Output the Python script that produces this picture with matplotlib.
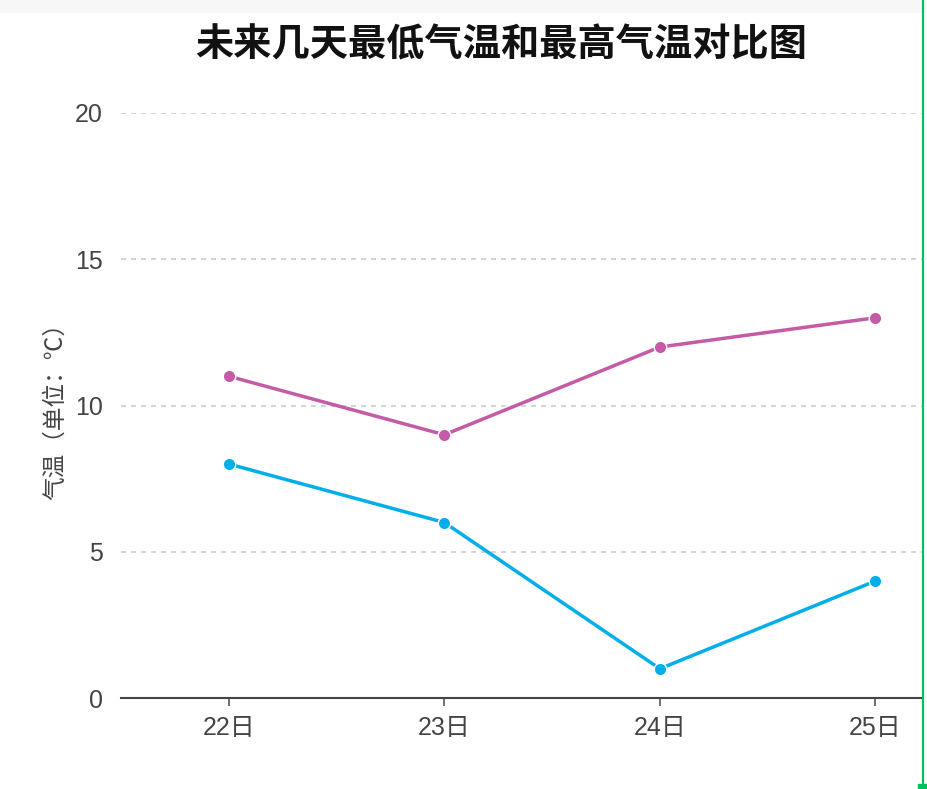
import matplotlib
matplotlib.use("Agg")
import matplotlib.pyplot as plt
from matplotlib.lines import Line2D
from matplotlib.patches import Rectangle

plt.rcParams["font.family"] = ["Liberation Sans", "Noto Sans CJK SC", "DejaVu Sans"]

days = ["22日", "23日", "24日", "25日"]
low_temps = [8, 6, 1, 4]
high_temps = [11, 9, 12, 13]
y_ticks = [0, 5, 10, 15, 20]

W, H = 928, 789
fig = plt.figure(figsize=(W / 100, H / 100), dpi=100)
ax = fig.add_axes([121 / W, 1 - 698 / H, (922 - 121) / W, (698 - 113) / H])

x = list(range(len(days)))
ax.plot(x, high_temps, color="#c55aa6", lw=2.5, marker="o", ms=9,
        markeredgecolor="white", markeredgewidth=1.0, zorder=3, clip_on=False)
ax.plot(x, low_temps, color="#00aeea", lw=2.5, marker="o", ms=9,
        markeredgecolor="white", markeredgewidth=1.0, zorder=3, clip_on=False)

ax.set_xlim(-0.5, 3.216)
ax.set_ylim(0, 20)
ax.set_xticks(x)
ax.set_xticklabels(days)
ax.set_yticks(y_ticks)
ax.tick_params(axis="x", length=6, width=1.2, color="#555555", labelsize=18,
               labelcolor="#444444", pad=7)
ax.tick_params(axis="y", length=0, labelsize=18, labelcolor="#444444", pad=13)

for v in y_ticks[1:]:
    ax.axhline(v, color="#cccccc", lw=1.2, ls=(0, (3, 3)), zorder=1)

for s in ["left", "right", "top"]:
    ax.spines[s].set_visible(False)
ax.spines["bottom"].set_color("#444444")
ax.spines["bottom"].set_linewidth(1.5)

ax.set_ylabel("气温（单位：℃）", fontsize=17, color="#444444", labelpad=6,
              family=["Noto Sans CJK SC", "DejaVu Sans"])

fig.text(501 / W, 1 - 45 / H, "未来几天最低气温和最高气温对比图",
         ha="center", va="center", fontsize=27.5, fontweight="bold", color="#111111",
         family=["Noto Sans CJK SC", "DejaVu Sans"])

# top shading and green edge line
fig.add_artist(Rectangle((0, 1 - 12 / H), 1, 12 / H, transform=fig.transFigure,
                         color="#f7f7f7", zorder=0))
fig.add_artist(Line2D([923 / W, 923 / W], [1 - 783 / H, 1], transform=fig.transFigure,
                      color="#00c060", lw=1.5))
fig.add_artist(Rectangle((918 / W, 0), 10 / W, 5 / H, transform=fig.transFigure,
                         color="#00c060"))

fig.savefig("out.png", dpi=100)
